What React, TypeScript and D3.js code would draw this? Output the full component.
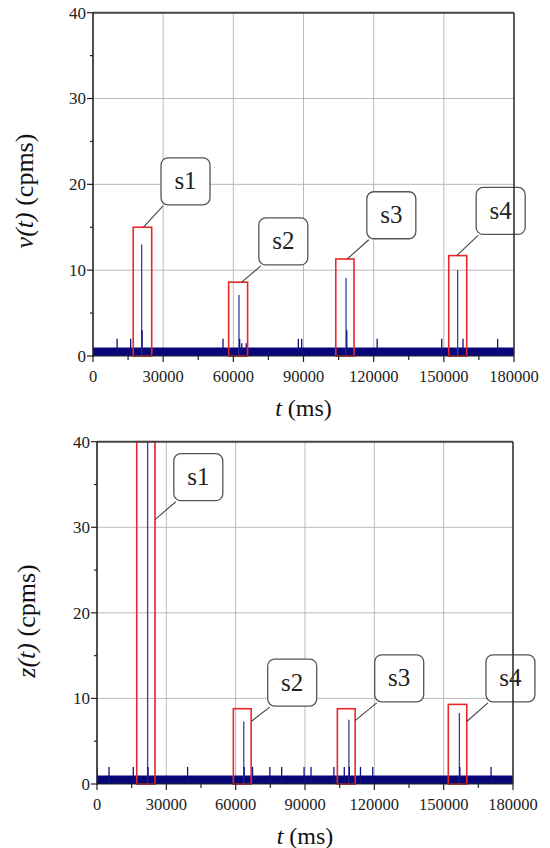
import React, { useEffect, useRef } from 'react'
import * as d3 from 'd3'

// time axis (ms) and count axis (cpms)
const tDomain = [0, 180000]
const tTicks = [0, 30000, 60000, 90000, 120000, 150000, 180000]
const tMinorTicks = [15000, 45000, 75000, 105000, 135000, 165000]
const yTicks = [0, 10, 20, 30, 40]
const yMinorTicks = [5, 15, 25, 35]
const noiseLevel = 1 // dense 0/1 background counts

// v(t): [t, count]
const vSpikes = [
  [10300, 2], [16100, 2], [20800, 13], [21000, 3], [55600, 2],
  [62400, 7.1], [62700, 2], [63600, 1.5], [65500, 1.5], [87800, 2],
  [89200, 2], [108200, 9.1], [108500, 3], [121500, 2], [149100, 2],
  [155900, 10], [158200, 2], [173000, 2]
]
// z(t): [t, count]
const zSpikes = [
  [0, 2], [5200, 2], [15700, 2], [21900, 42], [22100, 2], [39200, 2],
  [63500, 7.3], [63700, 2], [67300, 2], [74800, 2], [79900, 2],
  [89600, 2], [92600, 2], [102500, 2], [107000, 2], [109000, 7.5],
  [109200, 2], [114000, 2], [119300, 2], [156800, 8.3], [157000, 2],
  [170500, 2]
]

// marked segments: window t0..t1, box top, label centre and pointer end (data units)
const vMarks = [
  { name: 's1', t0: 17200, t1: 25100, top: 15, labelT: 39550, labelV: 20.35, ptT: 21500, ptV: 15 },
  { name: 's2', t0: 58000, t1: 66100, top: 8.6, labelT: 81360, labelV: 13.35, ptT: 63570, ptV: 8.6 },
  { name: 's3', t0: 103800, t1: 111600, top: 11.3, labelT: 127550, labelV: 16.4, ptT: 108700, ptV: 11.3 },
  { name: 's4', t0: 152100, t1: 159800, top: 11.7, labelT: 174300, labelV: 16.9, ptT: 155500, ptV: 11.7 }
]
const zMarks = [
  { name: 's1', t0: 17200, t1: 25100, top: 40, labelT: 43830, labelV: 35.85, ptT: 25100, ptV: 30.9 },
  { name: 's2', t0: 59000, t1: 66700, top: 8.8, labelT: 84460, labelV: 11.85, ptT: 66700, ptV: 7.3 },
  { name: 's3', t0: 104000, t1: 111700, top: 8.8, labelT: 130760, labelV: 12.35, ptT: 111700, ptV: 7.4 },
  { name: 's4', t0: 152000, t1: 160000, top: 9.3, labelT: 178900, labelV: 12.35, ptT: 160000, ptV: 7.3 }
]

const serif = "'Liberation Serif', 'DejaVu Serif', 'Times New Roman', serif"

function drawPanel(svg, id, box, fn, spikes, marks) {
  var x = d3.scaleLinear().domain(tDomain).range([box.left, box.right])
  var y = d3.scaleLinear().domain([0, 40]).range([box.bottom, box.top])
  var g = svg.append('g').attr('font-family', serif)

  g.append('clipPath').attr('id', id)
    .append('rect')
    .attr('x', box.left).attr('y', box.top)
    .attr('width', box.right - box.left).attr('height', box.bottom - box.top)

  // grid
  g.selectAll('.vgrid').data(tTicks.slice(1, -1)).enter().append('line')
    .attr('x1', d => x(d)).attr('x2', d => x(d))
    .attr('y1', box.top).attr('y2', box.bottom)
    .attr('stroke', '#a8a8a8').attr('stroke-width', 0.8)
  g.selectAll('.hgrid').data(yTicks.slice(1, -1)).enter().append('line')
    .attr('x1', box.left).attr('x2', box.right)
    .attr('y1', d => y(d)).attr('y2', d => y(d))
    .attr('stroke', '#a8a8a8').attr('stroke-width', 0.8)

  var plot = g.append('g').attr('clip-path', 'url(#' + id + ')')

  // background counts band
  var area = d3.area().x(d => x(d)).y0(y(0)).y1(y(noiseLevel))
  plot.append('path').attr('d', area(tDomain))
    .attr('fill', '#07077a')

  // spikes
  plot.selectAll('.spike').data(spikes).enter().append('line')
    .attr('x1', d => x(d[0])).attr('x2', d => x(d[0]))
    .attr('y1', y(0)).attr('y2', d => y(d[1]))
    .attr('stroke', d => d[1] > 4 ? '#3a3aa6' : '#10107e')
    .attr('stroke-width', 1.3)

  // red windows
  g.selectAll('.win').data(marks).enter().append('rect')
    .attr('x', d => x(d.t0)).attr('y', d => y(d.top))
    .attr('width', d => x(d.t1) - x(d.t0))
    .attr('height', d => y(0) - y(d.top))
    .attr('fill', 'none').attr('stroke', '#e8262b').attr('stroke-width', 1.6)

  // callouts
  var bw = 49, bh = 47
  g.selectAll('.lead').data(marks).enter().append('line')
    .attr('x1', d => x(d.labelT) - bw / 2 + 2).attr('y1', d => y(d.labelV) + bh / 2 + 1)
    .attr('x2', d => x(d.ptT)).attr('y2', d => y(d.ptV))
    .attr('stroke', '#444').attr('stroke-width', 1.1)
  g.selectAll('.lbox').data(marks).enter().append('rect')
    .attr('x', d => x(d.labelT) - bw / 2).attr('y', d => y(d.labelV) - bh / 2)
    .attr('width', bw).attr('height', bh).attr('rx', 7)
    .attr('fill', 'white').attr('stroke', '#555').attr('stroke-width', 1.3)
  g.selectAll('.ltext').data(marks).enter().append('text')
    .attr('x', d => x(d.labelT)).attr('y', d => y(d.labelV) + 8)
    .attr('text-anchor', 'middle')
    .attr('font-size', 25).attr('fill', '#222')
    .text(d => d.name)

  // frame
  g.append('line').attr('x1', box.left).attr('x2', box.right)
    .attr('y1', box.top).attr('y2', box.top)
    .attr('stroke', '#444').attr('stroke-width', 2)
  g.append('line').attr('x1', box.right).attr('x2', box.right)
    .attr('y1', box.top).attr('y2', box.bottom)
    .attr('stroke', '#333').attr('stroke-width', 1.6)
  g.append('line').attr('x1', box.left).attr('x2', box.left)
    .attr('y1', box.top).attr('y2', box.bottom + 1)
    .attr('stroke', '#222').attr('stroke-width', 1.6)
  g.append('line').attr('x1', box.left).attr('x2', box.right)
    .attr('y1', box.bottom).attr('y2', box.bottom)
    .attr('stroke', '#222').attr('stroke-width', 1.2)

  // ticks
  g.selectAll('.xt').data(tTicks).enter().append('line')
    .attr('x1', d => x(d)).attr('x2', d => x(d))
    .attr('y1', box.bottom).attr('y2', box.bottom + 6)
    .attr('stroke', '#222').attr('stroke-width', 1.2)
  g.selectAll('.xmt').data(tMinorTicks).enter().append('line')
    .attr('x1', d => x(d)).attr('x2', d => x(d))
    .attr('y1', box.bottom).attr('y2', box.bottom + 4)
    .attr('stroke', '#222').attr('stroke-width', 1.2)
  g.selectAll('.yt').data(yTicks).enter().append('line')
    .attr('x1', box.left - 6).attr('x2', box.left)
    .attr('y1', d => y(d)).attr('y2', d => y(d))
    .attr('stroke', '#222').attr('stroke-width', 1.2)
  g.selectAll('.ymt').data(yMinorTicks).enter().append('line')
    .attr('x1', box.left - 3).attr('x2', box.left)
    .attr('y1', d => y(d)).attr('y2', d => y(d))
    .attr('stroke', '#222').attr('stroke-width', 1.2)

  g.selectAll('.xl').data(tTicks).enter().append('text')
    .attr('x', d => x(d)).attr('y', box.bottom + 26)
    .attr('text-anchor', 'middle')
    .attr('font-size', 16.5).attr('fill', '#222')
    .text(d => String(d))
  g.selectAll('.yl').data(yTicks).enter().append('text')
    .attr('x', box.left - 7).attr('y', d => y(d)).attr('dy', '0.35em')
    .attr('text-anchor', 'end')
    .attr('font-size', 17).attr('fill', '#222')
    .text(d => String(d))

  // titles
  var xt = g.append('text')
    .attr('x', (box.left + box.right) / 2).attr('y', box.xTitleY)
    .attr('text-anchor', 'middle')
    .attr('font-size', 24).attr('fill', '#111')
  xt.append('tspan').attr('font-style', 'italic').text('t')
  xt.append('tspan').text(' (ms)')

  var yt = g.append('text')
    .attr('transform', 'translate(' + box.yTitleX + ',' + box.yTitleY + ') rotate(-90)')
    .attr('text-anchor', 'middle')
    .attr('font-size', 26).attr('fill', '#111')
  yt.append('tspan').attr('font-style', 'italic').text(fn + '(t)')
  yt.append('tspan').text(' (cpms)')
}

export default function App() {
  const ref = useRef(null)

  useEffect(() => {
    var svg = d3.select(ref.current)
    svg.selectAll('*').remove()
    drawPanel(svg, 'clipV',
      { left: 93, right: 514, top: 12.7, bottom: 356, xTitleY: 416, yTitleX: 33, yTitleY: 191 },
      'v', vSpikes, vMarks)
    drawPanel(svg, 'clipZ',
      { left: 97, right: 513, top: 441.7, bottom: 784, xTitleY: 844, yTitleX: 35, yTitleY: 621 },
      'z', zSpikes, zMarks)
  }, [])

  return (
    <svg ref={ref} width={550} height={848} fontFamily={serif}
      style={{ position: 'absolute', left: 0, top: 0, background: 'white' }} />
  )
}
